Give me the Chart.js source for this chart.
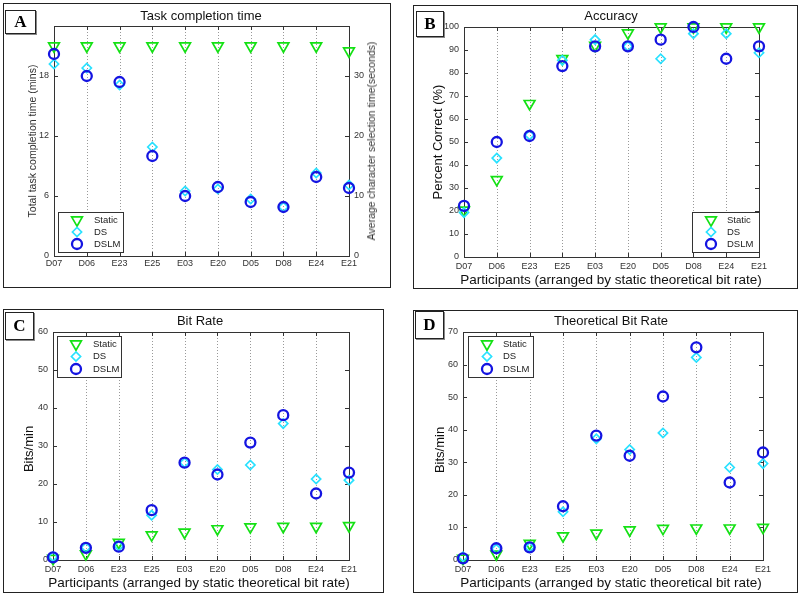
<!DOCTYPE html>
<html>
<head>
<meta charset="utf-8">
<script src="https://cdn.jsdelivr.net/npm/chart.js@4.4.1/dist/chart.umd.min.js"></script>
<style>
  html, body { margin: 0; padding: 0; background: #fff; }
  #page { position: relative; width: 800px; height: 597px; overflow: hidden; font-family: 'Liberation Sans', Arial, sans-serif; }
  canvas { position: absolute; left: 0; top: 0; pointer-events: none; }
  .panel { position: absolute; border: 1.5px solid #222; box-sizing: border-box; }
  .tag { position: absolute; border: 1.5px solid #222; box-sizing: border-box; background: #fff;
         font: bold 17px 'Liberation Serif', 'DejaVu Serif', serif; display: flex; align-items: center; justify-content: center;
         box-shadow: 1px 1px 0 #888; }
  .txt { position: absolute; white-space: nowrap; transform: translate(-50%, -50%); color: #111; }
  .rot { transform: translate(-50%, -50%) rotate(-90deg); }
</style>
</head>
<body>
<div id="page">
  <div class="panel" style="left:3px;top:3px;width:388px;height:285px"></div>
  <div class="panel" style="left:413px;top:5px;width:385px;height:284px"></div>
  <div class="panel" style="left:3px;top:309px;width:381px;height:284px"></div>
  <div class="panel" style="left:413px;top:310px;width:385px;height:283px"></div>

  <canvas id="chartA" width="800" height="597"></canvas>
  <canvas id="chartB" width="800" height="597"></canvas>
  <canvas id="chartC" width="800" height="597"></canvas>
  <canvas id="chartD" width="800" height="597"></canvas>

  <div class="tag" style="left:5px;top:10px;width:31px;height:24px">A</div>
  <div class="tag" style="left:416px;top:11px;width:28px;height:26px">B</div>
  <div class="tag" style="left:5px;top:312px;width:29px;height:28px">C</div>
  <div class="tag" style="left:415px;top:311px;width:29px;height:28px">D</div>

  <div class="txt" style="left:201px;top:15px;font-size:13px">Task completion time</div>
  <div class="txt rot" style="left:32px;top:141px;font-size:10.5px;color:#333">Total task completion time (mins)</div>
  <div class="txt rot" style="left:371px;top:141px;font-size:10.5px;color:#333">Average character selection time(seconds)</div>

  <div class="txt" style="left:611px;top:15px;font-size:13px">Accuracy</div>
  <div class="txt rot" style="left:437px;top:142px;font-size:13px">Percent Correct (%)</div>
  <div class="txt" style="left:611px;top:279px;font-size:13.5px">Participants (arranged by static theoretical bit rate)</div>

  <div class="txt" style="left:200px;top:320px;font-size:13px">Bit Rate</div>
  <div class="txt rot" style="left:28px;top:449px;font-size:13px">Bits/min</div>
  <div class="txt" style="left:199px;top:582px;font-size:13.5px">Participants (arranged by static theoretical bit rate)</div>

  <div class="txt" style="left:611px;top:320px;font-size:13px">Theoretical Bit Rate</div>
  <div class="txt rot" style="left:439px;top:450px;font-size:13px">Bits/min</div>
  <div class="txt" style="left:611px;top:582px;font-size:13.5px">Participants (arranged by static theoretical bit rate)</div>
</div>

<script>
// participants, ordered by static theoretical bit rate
const participants = ['D07', 'D06', 'E23', 'E25', 'E03', 'E20', 'D05', 'D08', 'E24', 'E21'];

// A: task completion time (mins)
const timeStatic = [21.0, 21.0, 21.0, 21.0, 21.0, 21.0, 21.0, 21.0, 21.0, 20.5];
const timeDS     = [19.2, 18.8, 17.1, 10.9, 6.5, 6.7, 5.7, 4.9, 8.3, 7.1];
const timeDSLM   = [20.2, 18.0, 17.4, 10.0, 6.0, 6.9, 5.4, 4.9, 7.9, 6.8];
const timeTicks  = [0, 6, 12, 18];
const secTicks   = [0, 10, 20, 30];

// B: accuracy (%)
const accStatic = [20.3, 33.6, 66.7, 86.2, 92.0, 97.4, 100, 100, 100, 100];
const accDS     = [19.3, 43.0, 53.0, 85.5, 94.5, 91.6, 86.2, 97.1, 97.1, 88.8];
const accDSLM   = [22.2, 50.0, 52.6, 83.0, 91.6, 91.6, 94.5, 100, 86.2, 91.6];
const accTicks  = [0, 10, 20, 30, 40, 50, 60, 70, 80, 90, 100];

// C: bit rate (bits/min)
const brStatic = [0.4, 1.6, 4.6, 6.6, 7.3, 8.2, 8.7, 8.8, 8.8, 9.0];
const brDS     = [0.9, 3.3, 3.7, 11.8, 25.6, 23.8, 25.0, 35.9, 21.3, 21.0];
const brDSLM   = [0.7, 3.2, 3.5, 13.1, 25.6, 22.5, 30.9, 38.1, 17.5, 23.0];
const brTicks  = [0, 10, 20, 30, 40, 50, 60];

// D: theoretical bit rate (bits/min)
const tbrStatic = [0.5, 1.8, 5.1, 7.4, 8.2, 9.2, 9.7, 9.8, 9.8, 10.0];
const tbrDS     = [1.0, 3.4, 3.9, 14.8, 37.2, 33.9, 39.0, 62.2, 28.4, 29.6];
const tbrDSLM   = [0.5, 3.6, 3.9, 16.5, 38.2, 32.0, 50.2, 65.3, 23.8, 33.0];
const tbrTicks  = [0, 10, 20, 30, 40, 50, 60, 70];

const seriesNames = ['Static', 'DS', 'DSLM'];

const GREEN = 'rgb(20,225,20)';
const CYAN = 'rgb(40,225,255)';
const BLUE = 'rgb(20,20,225)';
const FONT = "'Liberation Sans', Arial, sans-serif";

const markers = [
  { color: GREEN, style: 'triangle', radius: 6.2, rotation: 180, width: 1.7 },
  { color: CYAN, style: 'rectRot', radius: 4.6, rotation: 0, width: 1.7 },
  { color: BLUE, style: 'circle', radius: 5, rotation: 0, width: 2.3 }
];

function drawMarker(ctx, m, x, y) {
  ctx.save();
  ctx.strokeStyle = m.color;
  ctx.lineWidth = m.width;
  ctx.beginPath();
  if (m.style === 'triangle') {
    const r = m.radius;
    ctx.moveTo(x, y + r);
    ctx.lineTo(x - r * 0.866, y - r / 2);
    ctx.lineTo(x + r * 0.866, y - r / 2);
    ctx.closePath();
  } else if (m.style === 'rectRot') {
    const r = m.radius;
    ctx.moveTo(x - r, y); ctx.lineTo(x, y - r); ctx.lineTo(x + r, y); ctx.lineTo(x, y + r);
    ctx.closePath();
  } else {
    ctx.arc(x, y, m.radius, 0, Math.PI * 2);
  }
  ctx.stroke();
  ctx.restore();
}

// grid, axes box, inward ticks and in-plot legend
const framePlugin = {
  id: 'frame',
  beforeDatasetsDraw(chart, args, opts) {
    const { ctx, chartArea: a, scales } = chart;
    ctx.save();
    ctx.lineWidth = 1;
    ctx.strokeStyle = '#999';
    ctx.setLineDash([1, 2]);
    scales.x.ticks.forEach((t, i) => {
      const x = Math.round(scales.x.getPixelForTick(i)) + 0.5;
      ctx.beginPath(); ctx.moveTo(x, a.top); ctx.lineTo(x, a.bottom); ctx.stroke();
    });
    ctx.setLineDash([]);
    ctx.strokeStyle = '#333';
    ctx.strokeRect(Math.round(a.left) + 0.5, Math.round(a.top) + 0.5,
                   Math.round(a.right - a.left), Math.round(a.bottom - a.top));
    const tl = 4;
    ctx.beginPath();
    scales.x.ticks.forEach((t, i) => {
      const x = Math.round(scales.x.getPixelForTick(i)) + 0.5;
      ctx.moveTo(x, a.bottom); ctx.lineTo(x, a.bottom - tl);
      ctx.moveTo(x, a.top); ctx.lineTo(x, a.top + tl);
    });
    const yl = scales.y;
    yl.ticks.forEach(t => {
      const y = Math.round(yl.getPixelForValue(t.value)) + 0.5;
      ctx.moveTo(a.left, y); ctx.lineTo(a.left + tl, y);
      if (!scales.y2) { ctx.moveTo(a.right, y); ctx.lineTo(a.right - tl, y); }
    });
    if (scales.y2) {
      scales.y2.ticks.forEach(t => {
        const y = Math.round(scales.y2.getPixelForValue(t.value)) + 0.5;
        ctx.moveTo(a.right, y); ctx.lineTo(a.right - tl, y);
      });
    }
    ctx.stroke();
    ctx.restore();
  },
  afterDatasetsDraw(chart, args, opts) {
    const lg = opts.legend;
    if (!lg) return;
    const ctx = chart.ctx;
    ctx.save();
    ctx.fillStyle = '#fff';
    ctx.fillRect(lg.x, lg.y, lg.w, lg.h);
    ctx.strokeStyle = '#333';
    ctx.lineWidth = 1;
    ctx.strokeRect(lg.x + 0.5, lg.y + 0.5, lg.w, lg.h);
    ctx.font = '9.5px ' + FONT;
    ctx.fillStyle = '#222';
    ctx.textBaseline = 'middle';
    seriesNames.forEach((name, i) => {
      const y = lg.y + lg.row0 + i * lg.step;
      drawMarker(ctx, markers[i], lg.x + lg.mx, y);
      ctx.fillText(name, lg.x + lg.tx, y);
    });
    ctx.restore();
  }
};

function dataset(i, values, axis) {
  const m = markers[i];
  return {
    label: seriesNames[i],
    data: values,
    yAxisID: axis || 'y',
    showLine: false,
    clip: false,
    order: 2 - i,
    pointStyle: m.style,
    pointRadius: m.radius,
    pointRotation: m.rotation,
    pointBorderWidth: m.width,
    pointBorderColor: m.color,
    pointBackgroundColor: 'rgba(0,0,0,0)'
  };
}

function fixedTicks(arr) {
  return scale => { scale.ticks = arr.map(v => ({ value: v })); };
}

function yScale(ticks, max, position) {
  return {
    type: 'linear',
    position: position || 'left',
    min: 0,
    max: max,
    afterBuildTicks: fixedTicks(ticks),
    afterFit: s => { s.width = 30; },
    grid: { display: false, drawTicks: false },
    border: { display: false },
    ticks: { padding: 5, color: '#333', font: { family: FONT, size: 9 } }
  };
}

function makeChart(id, plot, sets, scalesY, legend, xPad) {
  const rightW = scalesY.y2 ? 30 : 0;
  new Chart(document.getElementById(id), {
    type: 'line',
    data: { labels: participants, datasets: sets },
    options: {
      responsive: false,
      animation: false,
      devicePixelRatio: 1,
      layout: {
        padding: { left: plot.l - 30, top: plot.t, right: 800 - plot.r - rightW, bottom: 597 - plot.b - 16 }
      },
      plugins: { legend: { display: false }, tooltip: { enabled: false }, frame: { legend: legend } },
      scales: Object.assign({
        x: {
          type: 'category',
          offset: false,
          afterFit: s => { s.height = 16; },
          grid: { display: false, drawTicks: false },
          border: { display: false },
          ticks: { padding: xPad, color: '#333', maxRotation: 0, autoSkip: false, font: { family: FONT, size: 9 } }
        }
      }, scalesY)
    },
    plugins: [framePlugin]
  });
}

makeChart('chartA', { l: 54, t: 26, r: 349, b: 256 },
  [dataset(0, timeStatic), dataset(1, timeDS), dataset(2, timeDSLM)],
  { y: yScale(timeTicks, 23), y2: yScale(secTicks, 23 * 10 / 6, 'right') },
  { x: 58, y: 212, w: 65, h: 40, mx: 19, tx: 36, row0: 8, step: 12 }, 2);

makeChart('chartB', { l: 464, t: 27, r: 759, b: 257 },
  [dataset(0, accStatic), dataset(1, accDS), dataset(2, accDSLM)],
  { y: yScale(accTicks, 100) },
  { x: 692, y: 212, w: 67, h: 40, mx: 19, tx: 35, row0: 8, step: 12 }, 4);

makeChart('chartC', { l: 53, t: 332, r: 349, b: 560 },
  [dataset(0, brStatic), dataset(1, brDS), dataset(2, brDSLM)],
  { y: yScale(brTicks, 60) },
  { x: 57, y: 336, w: 64, h: 41, mx: 19, tx: 36, row0: 8, step: 12.5 }, 4);

makeChart('chartD', { l: 463, t: 332, r: 763, b: 560 },
  [dataset(0, tbrStatic), dataset(1, tbrDS), dataset(2, tbrDSLM)],
  { y: yScale(tbrTicks, 70) },
  { x: 468, y: 336, w: 65, h: 41, mx: 19, tx: 35, row0: 8, step: 12.5 }, 4);
</script>
</body>
</html>
